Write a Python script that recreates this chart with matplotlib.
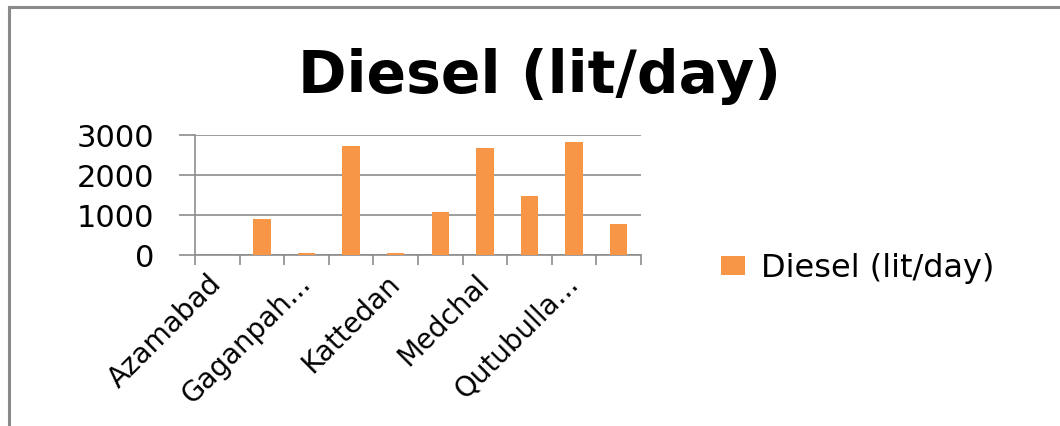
import numpy as np
import matplotlib
matplotlib.use("Agg")
import matplotlib.pyplot as plt
from matplotlib.lines import Line2D
from matplotlib.patches import Patch

# ---- data ----
tick_labels = ["Azamabad", "", "Gaganpah...", "", "Kattedan", "",
               "Medchal", "", "Qutubulla...", ""]
diesel = [0, 900, 50, 2710, 50, 1070, 2680, 1480, 2830, 780]
series_name = "Diesel (lit/day)"
y_ticks = [0, 1000, 2000, 3000]

BAR = "#F79646"
GRID = "#8C8C8C"

plt.rcParams["font.family"] = ["DejaVu Sans"]

fig = plt.figure(figsize=(10.60, 4.27), dpi=100)
ax = fig.add_axes([195 / 1060, 1 - 255.7 / 427, 446 / 1060, 120 / 427])

x = np.arange(len(diesel))
ax.bar(x, diesel, width=0.39, color=BAR, zorder=3)

ax.set_xlim(-0.5, len(diesel) - 0.5)
ax.set_ylim(0, 3000)
ax.set_yticks(y_ticks)
ax.set_yticklabels([str(v) for v in y_ticks], fontsize=22)
ax.yaxis.grid(True, color=GRID, linewidth=1.2, zorder=0)
ax.tick_params(axis="y", length=11.5, width=1.2, color=GRID, pad=18, direction="out")

ax.set_xticks(x)
ax.set_xticklabels(tick_labels, fontsize=20, rotation=45, ha="right",
                   rotation_mode="anchor", va="center")
ax.tick_params(axis="x", which="major", length=0, pad=17)
ax.set_xticks(np.arange(-0.5, len(diesel), 1), minor=True)
ax.tick_params(axis="x", which="minor", length=7, width=1.2, color=GRID, direction="out")

for s in ["top", "right"]:
    ax.spines[s].set_visible(False)
for s in ["left", "bottom"]:
    ax.spines[s].set_color(GRID)
    ax.spines[s].set_linewidth(1.2)

fig.text(540 / 1060, 1 - 93 / 427, series_name, fontsize=42, fontweight="bold",
         ha="center", va="baseline")

handle = Patch(facecolor=BAR, edgecolor="none")
fig.legend([handle], [series_name], loc="center left",
           bbox_to_anchor=(721 / 1060, 1 - 269 / 427), frameon=False,
           fontsize=23, handlelength=0.75, handleheight=0.55, handletextpad=0.5,
           borderpad=0, borderaxespad=0)

# chart border (left and top visible)
fig.add_artist(Line2D([9 / 1060, 9 / 1060], [0, 1 - 8 / 427], transform=fig.transFigure,
                      color="#8A8A8A", linewidth=2.2))
fig.add_artist(Line2D([9 / 1060, 1], [1 - 8 / 427, 1 - 8 / 427], transform=fig.transFigure,
                      color="#8A8A8A", linewidth=2.2))

fig.savefig("out.png", dpi=100)
